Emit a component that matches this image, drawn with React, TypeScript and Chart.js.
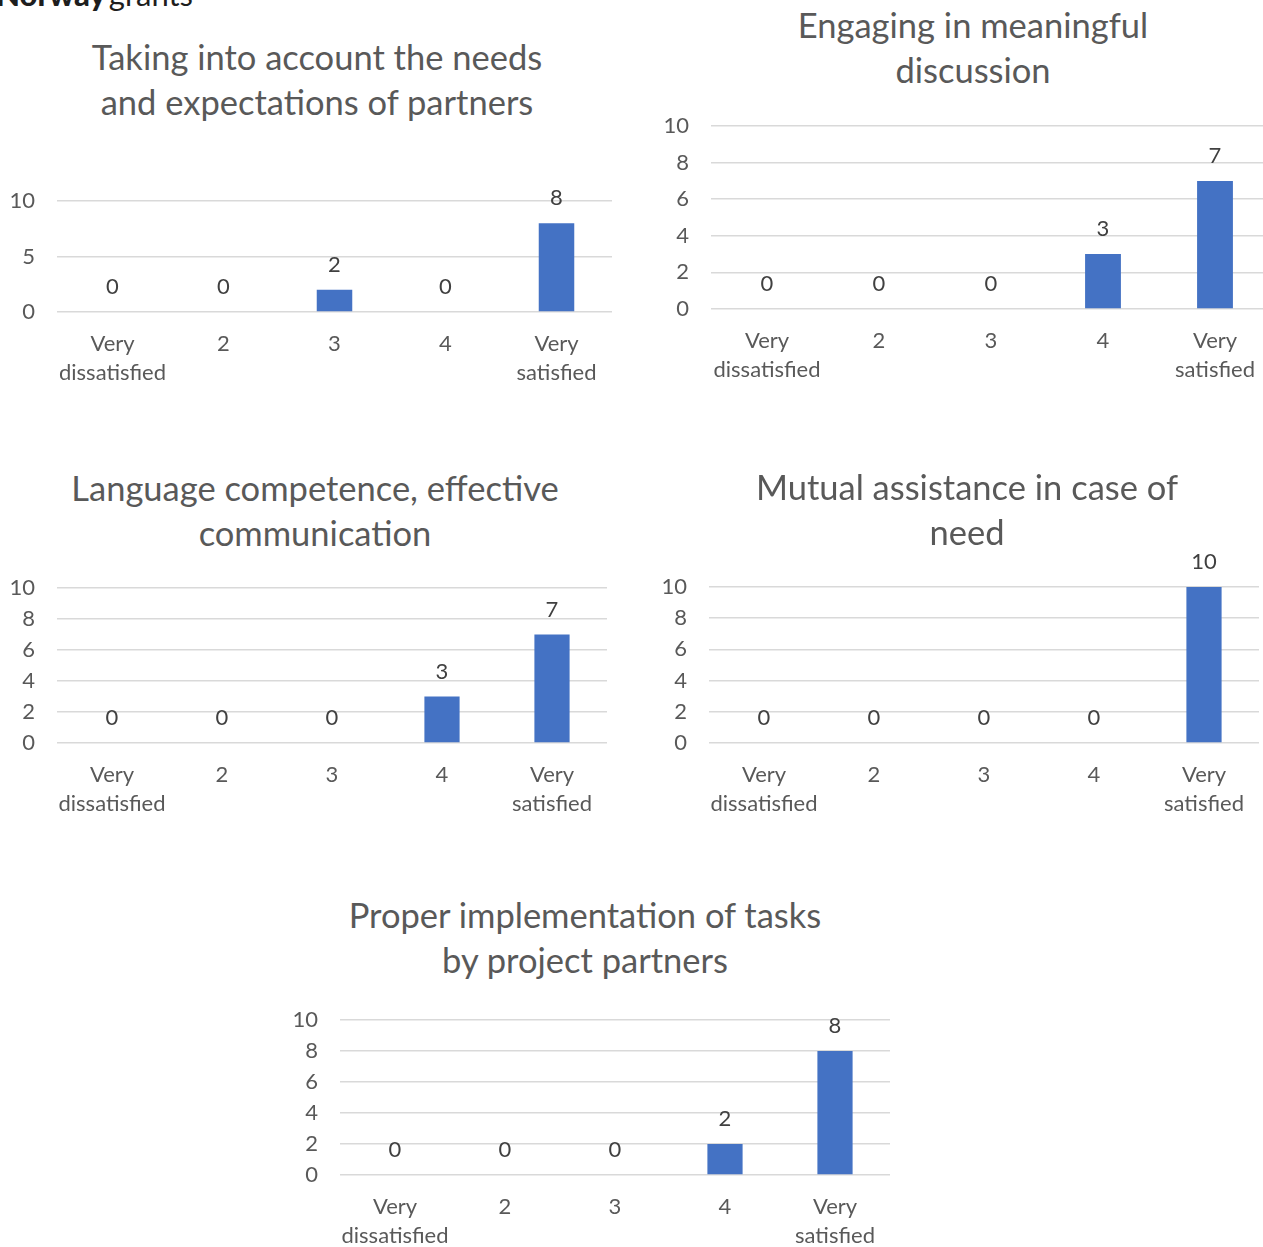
import React, { useEffect, useRef } from "react";
import { Chart, registerables } from "chart.js";

Chart.register(...registerables);

// ---------- data ----------
const categories: (string | string[])[] = [["Very", "dissatisfied"], "2", "3", "4", ["Very", "satisfied"]];

const titleNeeds = ["Taking into account the needs", "and expectations of partners"];
const valuesNeeds = [0, 0, 2, 0, 8];

const titleDiscussion = ["Engaging in meaningful", "discussion"];
const valuesDiscussion = [0, 0, 0, 3, 7];

const titleLanguage = ["Language competence, effective", "communication"];
const valuesLanguage = [0, 0, 0, 3, 7];

const titleAssistance = ["Mutual assistance in case of", "need"];
const valuesAssistance = [0, 0, 0, 0, 10];

const titleTasks = ["Proper implementation of tasks", "by project partners"];
const valuesTasks = [0, 0, 0, 2, 8];

const yMax = 10;
const yStepFirst = 5;
const yStepOther = 2;

// ---------- layout / style ----------
const FONT = "Lato, 'Open Sans', sans-serif";
const TEXT = "#595959";
const LABEL = "#404040";
const BAR = "#4472C4";
const GRID = "#d9d9d9";
const TICK_SIZE = 22;
const TITLE_SIZE = 34.5;
const Y_W = 55;
const PAD_T = 45;
const PAD_R = 20;
const X_H = 80;

type Box = { plotL: number; plotR: number; plotT: number; plotB: number; titleX: number; titleY: number };

const boxes: Box[] = [
  { plotL: 57, plotR: 612, plotT: 201, plotB: 312, titleX: 317, titleY: 56 },
  { plotL: 711, plotR: 1271, plotT: 126, plotB: 309, titleX: 973, titleY: 24 },
  { plotL: 57, plotR: 607, plotT: 588, plotB: 743, titleX: 315, titleY: 487 },
  { plotL: 709, plotR: 1259, plotT: 587, plotB: 743, titleX: 967, titleY: 486 },
  { plotL: 340, plotR: 890, plotT: 1020, plotB: 1175, titleX: 585, titleY: 914 },
];

const valueLabels = {
  id: "valueLabels",
  afterDatasetsDraw(chart: any) {
    const ctx = chart.ctx;
    ctx.save();
    ctx.font = `${TICK_SIZE}px ${FONT}`;
    ctx.fillStyle = LABEL;
    ctx.textAlign = "center";
    ctx.textBaseline = "middle";
    chart.data.datasets.forEach((ds: any, di: number) => {
      const meta = chart.getDatasetMeta(di);
      meta.data.forEach((el: any, i: number) => {
        ctx.fillText(String(ds.data[i]), el.x, el.y - 25);
      });
    });
    ctx.restore();
  },
};

function BarPanel({ values, step, title, box }: { values: number[]; step: number; title: string[]; box: Box }) {
  const ref = useRef<HTMLCanvasElement | null>(null);
  useEffect(() => {
    if (!ref.current) return;
    const chart = new Chart(ref.current, {
      type: "bar",
      data: {
        labels: categories,
        datasets: [
          {
            data: values,
            backgroundColor: BAR,
            borderWidth: 0,
            barPercentage: 0.32,
            categoryPercentage: 1,
          },
        ],
      },
      options: {
        responsive: true,
        maintainAspectRatio: false,
        animation: false,
        layout: { padding: { top: PAD_T, right: PAD_R, left: 0, bottom: 0 } },
        plugins: { legend: { display: false }, tooltip: { enabled: false }, title: { display: false } },
        scales: {
          x: {
            grid: { display: false },
            border: { display: false },
            ticks: { color: TEXT, font: { family: FONT, size: TICK_SIZE, lineHeight: 1.3 }, padding: 10, maxRotation: 0, autoSkip: false },
            afterFit: (s: any) => {
              s.height = X_H;
            },
          },
          y: {
            min: 0,
            max: yMax,
            ticks: { stepSize: step, color: TEXT, font: { family: FONT, size: TICK_SIZE }, padding: 22 },
            grid: { color: GRID, lineWidth: 1.5, drawTicks: false },
            border: { display: false },
            afterFit: (s: any) => {
              s.width = Y_W;
            },
          },
        },
      },
      plugins: [valueLabels],
    });
    return () => chart.destroy();
  }, [values, step]);

  const w = Y_W + (box.plotR - box.plotL) + PAD_R;
  const h = PAD_T + (box.plotB - box.plotT) + X_H;
  return (
    <>
      <div
        style={{
          position: "absolute",
          left: box.titleX - 400,
          top: box.titleY - 22.5,
          width: 800,
          textAlign: "center",
          fontFamily: FONT,
          fontSize: TITLE_SIZE,
          lineHeight: "45px",
          color: TEXT,
          whiteSpace: "nowrap",
        }}
      >
        {title.map((t, i) => (
          <div key={i}>{t}</div>
        ))}
      </div>
      <div style={{ position: "absolute", left: box.plotL - Y_W, top: box.plotT - PAD_T, width: w, height: h }}>
        <canvas ref={ref} />
      </div>
    </>
  );
}

export default function App() {
  return (
    <div
      style={{
        position: "fixed",
        left: 0,
        top: 0,
        width: 1263,
        height: 1247,
        overflow: "hidden",
        background: "#ffffff",
      }}
    >
      <div
        style={{
          position: "absolute",
          left: -4,
          top: -21,
          fontFamily: FONT,
          fontSize: 31,
          lineHeight: "30px",
          color: "#1e1e1e",
          whiteSpace: "nowrap",
        }}
      >
        <span style={{ fontWeight: 900 }}>Norway</span>
        <span style={{ fontWeight: 400, marginLeft: 3 }}>grants</span>
      </div>
      <BarPanel values={valuesNeeds} step={yStepFirst} title={titleNeeds} box={boxes[0]} />
      <BarPanel values={valuesDiscussion} step={yStepOther} title={titleDiscussion} box={boxes[1]} />
      <BarPanel values={valuesLanguage} step={yStepOther} title={titleLanguage} box={boxes[2]} />
      <BarPanel values={valuesAssistance} step={yStepOther} title={titleAssistance} box={boxes[3]} />
      <BarPanel values={valuesTasks} step={yStepOther} title={titleTasks} box={boxes[4]} />
    </div>
  );
}
